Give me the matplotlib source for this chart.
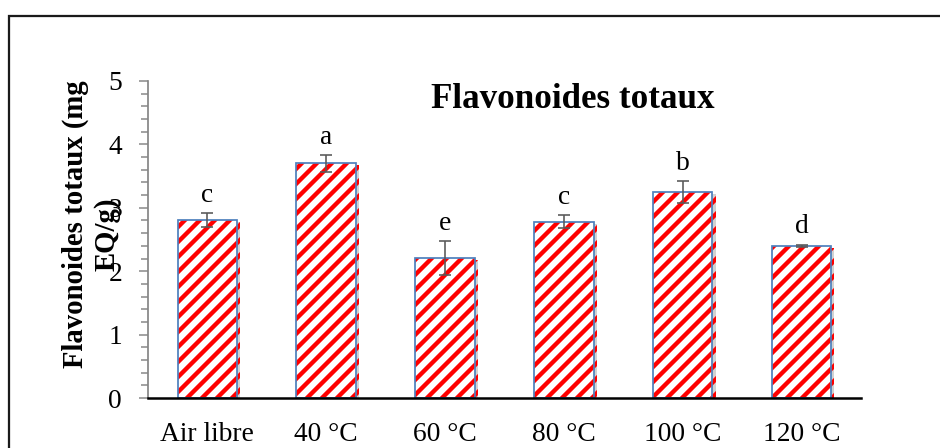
import matplotlib
matplotlib.use("Agg")
import matplotlib.pyplot as plt
import matplotlib.patheffects as pe
from matplotlib.patches import Rectangle
from matplotlib.ticker import MultipleLocator

# Total flavonoid content by drying condition
categories = ["Air libre", "40 °C", "60 °C", "80 °C", "100 °C", "120 °C"]
flavonoids = [2.81, 3.70, 2.21, 2.78, 3.25, 2.40]
std_dev = [0.11, 0.13, 0.27, 0.10, 0.17, 0.02]
groups = ["c", "a", "e", "c", "b", "d"]

plt.rcParams["font.family"] = ["Liberation Serif", "DejaVu Serif"]
plt.rcParams["hatch.linewidth"] = 3.5

DPI = 90
fig = plt.figure(figsize=(940 / DPI, 448 / DPI), dpi=DPI)
fig.patch.set_facecolor("white")
ax = fig.add_axes([0.1574, 0.1116, 0.7585, 0.7076])

x = list(range(len(categories)))

# striped fill with a soft drop shadow
ax.bar(x, flavonoids, width=0.5, color="white", edgecolor="#ff0000",
       linewidth=0, hatch="//", zorder=2,
       path_effects=[pe.SimplePatchShadow(offset=(2.5, -1.5), shadow_rgbFace="#808080", alpha=0.35),
                     pe.Normal()])
# blue outline on top
ax.bar(x, flavonoids, width=0.5, fill=False, edgecolor="#4f81bd",
       linewidth=1.4, zorder=3)

ax.errorbar(x, flavonoids, yerr=std_dev, fmt="none", ecolor="#595959",
            elinewidth=1.3, capsize=4.5, capthick=1.3, zorder=4)

for xi, v, e, g in zip(x, flavonoids, std_dev, groups):
    ax.annotate(g, xy=(xi, v + e), xytext=(0, 9), textcoords="offset points",
                ha="center", va="baseline", fontsize=22, zorder=5)

ax.set_xlim(-0.5, len(categories) - 0.5)
ax.set_ylim(0, 5)
ax.yaxis.set_major_locator(MultipleLocator(1))
ax.yaxis.set_minor_locator(MultipleLocator(0.2))
ax.set_xticks(x)
ax.set_xticklabels(categories)

for side in ("top", "right"):
    ax.spines[side].set_visible(False)
ax.spines["left"].set_color("#868686")
ax.spines["left"].set_linewidth(1.4)
ax.spines["bottom"].set_color("black")
ax.spines["bottom"].set_linewidth(2.0)
ax.spines["bottom"].set_zorder(6)

ax.tick_params(axis="x", length=0, pad=19, labelsize=22)
ax.tick_params(axis="y", which="major", length=7.2, width=1.2, color="#868686",
               pad=13.5, labelsize=22)
ax.tick_params(axis="y", which="minor", length=5.8, width=1.2, color="#868686")

fig.text(0.6096, 0.759, "Flavonoides totaux", ha="center", va="baseline",
         fontsize=28, fontweight="bold")

# two-line axis title, wrapped
fig.text(0.0798, 0.500, "Flavonoides totaux (mg", rotation=90,
         ha="center", va="center", fontsize=23, fontweight="bold")
fig.text(0.1138, 0.4777, "EQ/g)", rotation=90,
         ha="center", va="center", fontsize=23, fontweight="bold")

# chart frame
fig.add_artist(Rectangle((8.5 / 940, -0.2), 1.2, 1.2 - 16 / 448,
                         transform=fig.transFigure, fill=False,
                         edgecolor="#1a1a1a", linewidth=1.8))

fig.savefig("out.png", dpi=DPI)
